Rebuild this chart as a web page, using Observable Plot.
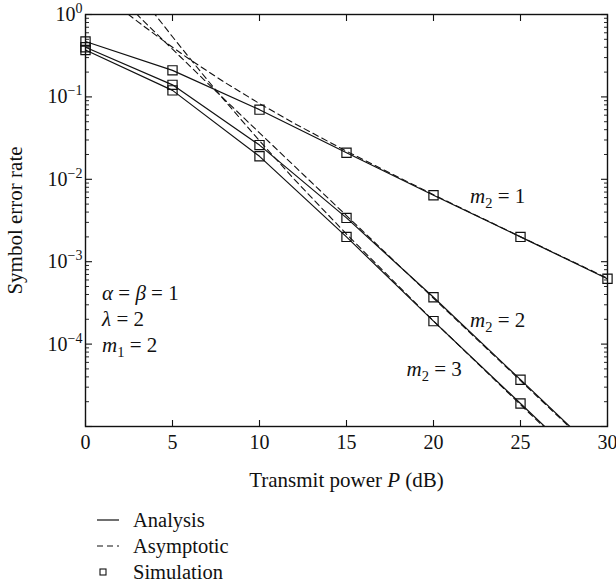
<!DOCTYPE html>
<html><head><meta charset="utf-8">
<script src="https://cdn.jsdelivr.net/npm/d3@7"></script>
<script src="https://cdn.jsdelivr.net/npm/@observablehq/plot@0.6"></script>
<style>
body{margin:0;background:#fff;font-family:"Liberation Serif",serif;position:relative;width:616px;height:586px;overflow:hidden;}
#chart{position:absolute;left:0;top:0;}
.leg{position:absolute;left:96px;height:24px;display:flex;align-items:center;font-size:20.5px;color:#111;}
.leg svg{width:26px;height:24px;margin-right:11px;}
</style></head><body>
<div id="chart"></div>
<div class="leg" style="top:508px"><svg><line x1="1" x2="23" y1="12" y2="12" stroke="#111" stroke-width="1.2"/></svg>Analysis</div>
<div class="leg" style="top:534px"><svg><line x1="1" x2="23" y1="12" y2="12" stroke="#111" stroke-width="1.2" stroke-dasharray="6,4"/></svg>Asymptotic</div>
<div class="leg" style="top:560px"><svg><rect x="4" y="9" width="6" height="6" fill="none" stroke="#111" stroke-width="1.1"/></svg>Simulation</div>
<script>
// Transmit power (dB) sample points
const snr = [0, 5, 10, 15, 20, 25, 30];
// Analysis (solid)
const anaM1 = [0.47, 0.21, 0.070, 0.021, 0.0064, 0.0020, 0.00062];
const anaM2 = [0.40, 0.14, 0.026, 0.0034, 0.00037, 0.000037, 0.0000037];
const anaM3 = [0.37, 0.12, 0.019, 0.0020, 0.00019, 0.000019, 0.0000019];
// Simulation (squares)
const simSnrM1 = [0, 5, 10, 15, 20, 25, 30];
const simM1 = [0.47, 0.21, 0.070, 0.021, 0.0064, 0.0020, 0.00062];
const simSnrM23 = [0, 5, 10, 15, 20, 25];
const simM2 = [0.40, 0.14, 0.026, 0.0034, 0.00037, 0.000037];
const simM3 = [0.37, 0.12, 0.019, 0.0020, 0.00019, 0.000019];
// Asymptotic (dashed)
const asySnrM1 = [2, 3, 4, 5, 6, 7, 8, 10, 12, 15, 20, 25, 30];
const asyM1 = [1.19, 0.82, 0.57, 0.40, 0.284, 0.206, 0.150, 0.083, 0.0477, 0.0219, 0.0065, 0.00201, 0.00063];
const asySnrM2 = [2.5, 3, 4, 5, 6, 7, 8, 10, 12, 15, 20, 25, 30];
const asyM2 = [1.25, 0.98, 0.609, 0.379, 0.237, 0.148, 0.0928, 0.0366, 0.0145, 0.00362, 0.00036, 0.000036, 0.0000036];
const asySnrM3 = [3.5, 4, 5, 6, 7, 8, 10, 12, 15, 20, 25, 30];
const asyM3 = [1.37, 0.998, 0.537, 0.293, 0.161, 0.0902, 0.0293, 0.0100, 0.00216, 0.000191, 0.0000184, 0.0000018];
// Axis ticks
const xTicks = [0, 5, 10, 15, 20, 25, 30];
const yLabelExps = [0, -1, -2, -3, -4];
const yMajor = [1e-5, 1e-4, 1e-3, 1e-2, 1e-1, 1];
const yMinorMult = [2, 3, 4, 5, 6, 7, 8, 9];
const yMinorExps = [-5, -4, -3, -2, -1];
// Annotations
const annotText = ["m2 = 1", "m2 = 2", "m2 = 3", "α = β = 1", "λ = 2", "m1 = 2"];
const annotX = [22.1, 22.1, 18.45, 0.95, 0.95, 0.95];
const annotY = [0.0063, 0.000194, 0.000049, 0.00041, 0.0002, 0.0000977];

const yMinor = yMinorExps.flatMap(e => yMinorMult.map(m => m * Math.pow(10, e)));
const yLabeled = yLabelExps.map(e => Math.pow(10, e));

const rows = (xs, ys, s) => xs.map((x, i) => ({x, y: ys[i], s}));
const analysis = [...rows(snr, anaM1, "1"), ...rows(snr, anaM2, "2"), ...rows(snr, anaM3, "3")];
const asym = [...rows(asySnrM1, asyM1, "1"), ...rows(asySnrM2, asyM2, "2"), ...rows(asySnrM3, asyM3, "3")];
const sim = [...rows(simSnrM1, simM1, "1"), ...rows(simSnrM23, simM2, "2"), ...rows(simSnrM23, simM3, "3")];
const annots = annotText.map((t, i) => ({t, x: annotX[i], y: annotY[i]}));

const ink = "#111";
const blank = () => "";
const plot = Plot.plot({
  width: 616, height: 500,
  marginLeft: 85, marginRight: 9, marginTop: 14, marginBottom: 74,
  style: {fontFamily: "'Liberation Serif', serif", fontSize: "20px", color: ink, background: "#fff", overflow: "visible"},
  x: {domain: [0, 30]},
  y: {type: "log", domain: [1e-5, 1]},
  marks: [
    Plot.axisY({ticks: yLabeled, tickSize: 0, tickPadding: 3, fontSize: 20, tickFormat: d => "10^" + Math.round(Math.log10(d)),
      label: "Symbol error rate", labelAnchor: "center", labelOffset: 78, labelArrow: "none"}),
    Plot.axisY({ticks: yMajor, tickSize: -7, tickFormat: blank, label: null, strokeWidth: 1.1}),
    Plot.axisY({ticks: yMinor, tickSize: -4, tickFormat: blank, label: null, strokeWidth: 0.9}),
    Plot.axisY({anchor: "right", ticks: yMajor, tickSize: -7, tickFormat: blank, label: null, strokeWidth: 1.1}),
    Plot.axisY({anchor: "right", ticks: yMinor, tickSize: -4, tickFormat: blank, label: null, strokeWidth: 0.9}),
    Plot.axisX({ticks: xTicks, tickSize: 0, tickPadding: 8, fontSize: 20, label: "Transmit power P (dB)", labelAnchor: "center", labelOffset: 60, labelArrow: "none"}),
    Plot.axisX({ticks: xTicks, tickSize: -6, tickFormat: blank, label: null, strokeWidth: 1.1}),
    Plot.axisX({anchor: "top", ticks: xTicks, tickSize: -6, tickFormat: blank, label: null, strokeWidth: 1.1}),
    Plot.line(asym, {x: "x", y: "y", z: "s", stroke: ink, strokeWidth: 1.1, strokeDasharray: "6,4", clip: true}),
    Plot.line(analysis, {x: "x", y: "y", z: "s", stroke: ink, strokeWidth: 1.2, clip: true}),
    Plot.dot(sim, {x: "x", y: "y", symbol: "square", r: 5.2, stroke: ink, strokeWidth: 1.2, fill: "none"}),
    Plot.text(annots, {x: "x", y: "y", text: "t", textAnchor: "start", fontSize: 21, fill: ink}),
    Plot.frame({stroke: ink, strokeWidth: 1.4})
  ]
});
document.getElementById("chart").appendChild(plot);

const svg = d3.select(plot);
svg.selectAll("text").each(function() {
  const s = this.textContent;
  const t = d3.select(this);
  const m = /^10\^(-?\d+)$/.exec(s);
  if (m) {
    t.text(null);
    t.append("tspan").text("10");
    t.append("tspan").attr("dy", "-8").attr("font-size", "14px").text(m[1].replace("-", "\u2212"));
  } else if (s === "Transmit power P (dB)") {
    t.text(null).style("white-space", "pre").attr("font-size", "21px");
    t.append("tspan").text("Transmit power ");
    t.append("tspan").attr("font-style", "italic").text("P");
    t.append("tspan").text(" (dB)");
  } else if (s === "Symbol error rate") {
    t.attr("font-size", "21px");
  } else if (annotText.includes(s)) {
    // italic letters, subscript digits following letters
    t.text(null).style("white-space", "pre");
    let prevLetter = false, shifted = false;
    for (const ch of s) {
      const isLetter = /[A-Za-z\u03b1-\u03c9]/.test(ch);
      const isSub = /\d/.test(ch) && prevLetter;
      const sp = t.append("tspan").text(ch);
      if (isLetter) sp.attr("font-style", "italic");
      if (isSub) { sp.attr("font-size", "14.5px").attr("dy", "5"); shifted = true; }
      else if (shifted) { sp.attr("dy", "-5"); shifted = false; }
      prevLetter = isLetter;
    }
  }
});
</script>
</body></html>
